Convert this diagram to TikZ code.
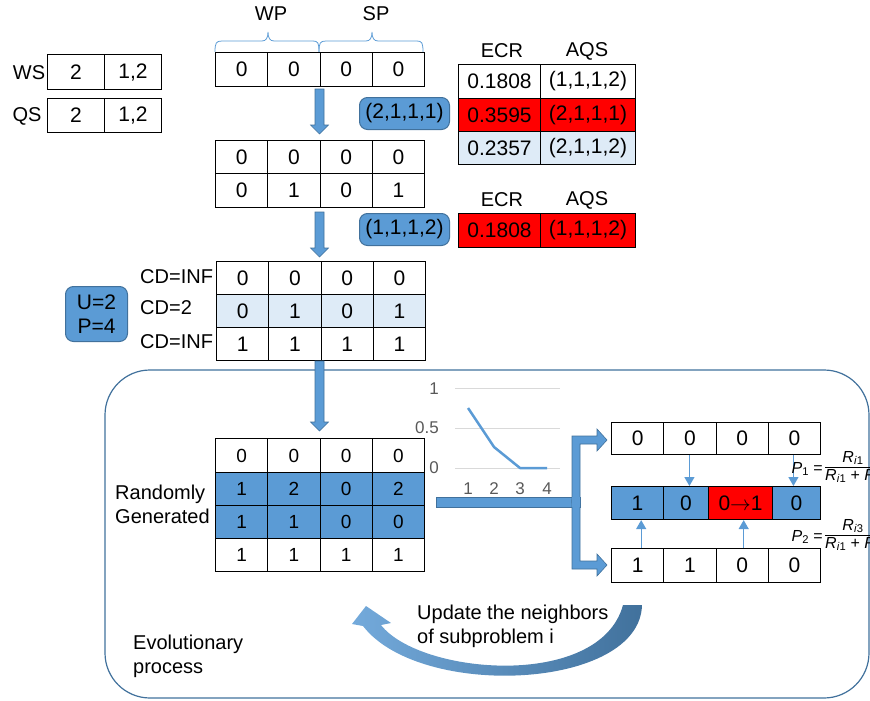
\documentclass[tikz,border=0pt]{standalone}
\usepackage{fontspec}
\setmainfont{Liberation Sans}
\usetikzlibrary{arrows.meta}
\definecolor{cblue}{HTML}{5B9BD5}
\definecolor{cborder}{HTML}{41719C}
\definecolor{clight}{HTML}{DEEBF7}
\definecolor{cred}{HTML}{FF0000}
\definecolor{cgray}{HTML}{595959}
\definecolor{cgrid}{HTML}{D9D9D9}
\tikzset{
  cell/.style={draw=black, line width=1.1pt, minimum width=52.25pt, inner sep=0pt,
    font=\fontsize{21}{25}\selectfont, anchor=north west},
  lbl/.style={inner sep=0pt, font=\fontsize{20}{24}\selectfont},
  rbox/.style={draw=cborder, fill=cblue, line width=1pt, rounded corners=8pt,
    inner sep=0pt, font=\fontsize{21}{24}\selectfont, anchor=north west},
  blockarrow/.style={fill=cblue, draw=cborder, line width=0.6pt},
  bracepath/.style={draw=cblue, line width=0.8pt},
  thinarrow/.style={draw=cblue, line width=1.3pt, -{Triangle[length=9pt,width=10pt]}},
  chartlbl/.style={inner sep=0pt, text=cgray, font=\fontsize{17}{20}\selectfont},
  formula/.style={inner sep=0pt, font=\fontsize{16}{18}\selectfont},
}
\newcommand{\downblock}[3]{%
  \filldraw[blockarrow] (#1-4.5,#2) -- (#1+4.5,#2) -- (#1+4.5,#3-9) -- (#1+9,#3-9)
    -- (#1,#3) -- (#1-9,#3-9) -- (#1-4.5,#3-9) -- cycle;}
\begin{document}
\begin{tikzpicture}[x=1pt,y=-1pt]
\useasboundingbox (0,0) rectangle (870,701);
\clip (0,0) rectangle (870,701);

% evolutionary frame
\draw[cborder, line width=1.2pt, rounded corners=45pt] (105,370) rectangle (869,698);

% WS / QS tables
\node[lbl] (ws) at (29,73) {WS};
\node[lbl] (qs) at (27,116) {QS};
\node[cell, minimum width=57pt, minimum height=35pt] (ws1) at (47,54) {2};
\node[cell, minimum width=57pt, minimum height=35pt] (ws2) at (104,54) {1,2};
\node[cell, minimum width=57pt, minimum height=34pt] (qs1) at (47,98) {2};
\node[cell, minimum width=57pt, minimum height=34pt] (qs2) at (104,98) {1,2};

% braces WP / SP
\draw[bracepath] (215,52) .. controls (215,43) and (216,41) .. (222,41) -- (262,41)
  .. controls (266,41) and (268,38) .. (268,32) .. controls (268,38) and (270,41) .. (274,41)
  -- (313,41) .. controls (318,41) and (319,43) .. (319,52);
\draw[bracepath] (319,52) .. controls (319,43) and (320,41) .. (326,41) -- (366,41)
  .. controls (370,41) and (372,38) .. (372,32) .. controls (372,38) and (374,41) .. (378,41)
  -- (417,41) .. controls (422,41) and (423,43) .. (423,52);
\node[lbl] (wp) at (271,14) {WP};
\node[lbl] (sp) at (376,14) {SP};

% matrix 1
\foreach \v [count=\i] in {0,0,0,0}
  \node[cell, minimum height=34pt] (ma\i) at ({215+(\i-1)*52.25},52) {\v};
\downblock{319.5}{89}{134}
\node[rbox, minimum width=90pt, minimum height=32pt] (aqs1) at (359,97) {(2,1,1,1)};

% matrix 2
\foreach \v [count=\i] in {0,0,0,0}
  \node[cell, minimum height=33pt] (mb\i) at ({215+(\i-1)*52.25},140) {\v};
\foreach \v [count=\i] in {0,1,0,1}
  \node[cell, minimum height=34pt] (mc\i) at ({215+(\i-1)*52.25},173) {\v};
\downblock{319.5}{212}{257}
\node[rbox, minimum width=90pt, minimum height=32pt] (aqs2) at (359,213) {(1,1,1,2)};

% ECR tables
\node[lbl] (ecr1) at (502,51) {ECR};
\node[lbl] (aqsh1) at (587,51) {AQS};
\node[cell, minimum width=82pt, minimum height=34pt] (e11) at (458,64) {0.1808};
\node[cell, minimum width=95pt, minimum height=34pt] (e12) at (540,64) {(1,1,1,2)};
\node[cell, fill=cred, minimum width=82pt, minimum height=33pt] (e21) at (458,98) {0.3595};
\node[cell, fill=cred, minimum width=95pt, minimum height=33pt] (e22) at (540,98) {(2,1,1,1)};
\node[cell, fill=clight, minimum width=82pt, minimum height=33pt] (e31) at (458,131) {0.2357};
\node[cell, fill=clight, minimum width=95pt, minimum height=33pt] (e32) at (540,131) {(2,1,1,2)};
\node[lbl] (ecr2) at (502,200) {ECR};
\node[lbl] (aqsh2) at (587,200) {AQS};
\node[cell, fill=cred, minimum width=82pt, minimum height=34pt] (f11) at (458,213) {0.1808};
\node[cell, fill=cred, minimum width=95pt, minimum height=34pt] (f12) at (540,213) {(1,1,1,2)};

% matrix 3 with crowding distances
\foreach \v [count=\i] in {0,0,0,0}
  \node[cell, minimum height=33pt] (md\i) at ({216+(\i-1)*52.25},261) {\v};
\foreach \v [count=\i] in {0,1,0,1}
  \node[cell, fill=clight, minimum height=33pt] (me\i) at ({216+(\i-1)*52.25},294) {\v};
\foreach \v [count=\i] in {1,1,1,1}
  \node[cell, minimum height=33pt] (mf\i) at ({216+(\i-1)*52.25},327) {\v};
\node[lbl, anchor=west] (cd1) at (140,277) {CD=INF};
\node[lbl, anchor=west] (cd2) at (140,308) {CD=2};
\node[lbl, anchor=west] (cd3) at (140,342) {CD=INF};
\node[rbox, minimum width=62pt, minimum height=55pt, align=center] (up) at (65,286) {U=2\\P=4};

\downblock{319.5}{361}{431}

% randomly generated matrix
\tikzset{rcell/.style={cell, minimum height=33pt, font=\fontsize{19}{22}\selectfont}}
\foreach \v [count=\i] in {0,0,0,0}
  \node[rcell, minimum height=34pt] (ra\i) at ({215+(\i-1)*52.25},438) {\v};
\foreach \v [count=\i] in {1,2,0,2}
  \node[rcell, fill=cblue] (rb\i) at ({215+(\i-1)*52.25},472) {\v};
\foreach \v [count=\i] in {1,1,0,0}
  \node[rcell, fill=cblue] (rc\i) at ({215+(\i-1)*52.25},505) {\v};
\foreach \v [count=\i] in {1,1,1,1}
  \node[rcell] (rd\i) at ({215+(\i-1)*52.25},538) {\v};
\node[lbl, anchor=west, align=left] (rg) at (115,504) {Randomly\\Generated};

% chart
\foreach \yy in {388,428,468} \draw[cgrid, line width=1pt] (455,\yy) -- (560,\yy);
\node[chartlbl, anchor=east] (cy1) at (439,389) {1};
\node[chartlbl, anchor=east] (cy2) at (439,428) {0.5};
\node[chartlbl, anchor=east] (cy3) at (439,468) {0};
\node[chartlbl] (cx1) at (468,489) {1};
\node[chartlbl] (cx2) at (494,489) {2};
\node[chartlbl] (cx3) at (520,489) {3};
\node[chartlbl] (cx4) at (547,489) {4};
\draw[cblue, line width=2.5pt, line join=round] (468,408) -- (494,447) -- (520,468) -- (547,468);

% branching block arrow
\filldraw[blockarrow] (436,497) rectangle (580,507);
\filldraw[blockarrow] (572,503) -- (572,436) -- (597,436) -- (597,429) -- (607,440)
  -- (597,451) -- (597,444) -- (580,444) -- (580,503) -- cycle;
\filldraw[blockarrow] (572,500) -- (572,569) -- (597,569) -- (597,576) -- (607,565)
  -- (597,554) -- (597,561) -- (580,561) -- (580,500) -- cycle;
\fill[cblue] (572.4,497.4) rectangle (579.6,506.6);

% right matrices
\foreach \v [count=\i] in {0,0,0,0}
  \node[cell, minimum height=32pt] (rt\i) at ({611+(\i-1)*52.25},422) {\v};
\node[cell, fill=cblue, minimum width=52pt, minimum height=33pt] (rm1) at (611,486) {1};
\node[cell, fill=cblue, minimum width=45pt, minimum height=33pt] (rm2) at (663,486) {0};
\node[cell, fill=cred, minimum width=64pt, minimum height=33pt] (rm3) at (708,486) {0\(\rightarrow\)1};
\node[cell, fill=cblue, minimum width=48pt, minimum height=33pt] (rm4) at (772,486) {0};
\foreach \v [count=\i] in {1,1,0,0}
  \node[cell, minimum height=34pt] (rw\i) at ({611+(\i-1)*52.25},548) {\v};

\draw[thinarrow] ([xshift=-0.5pt]rt2.south) -- ([xshift=-0.5pt]rt2.south |- rm2.north);
\draw[thinarrow] ([xshift=-1pt]rt4.south) -- ([xshift=-1pt]rt4.south |- rm4.north);
\draw[thinarrow] ([xshift=3.5pt]rw1.north) -- ([xshift=3.5pt]rw1.north |- rm1.south);
\draw[thinarrow] ([xshift=1.5pt]rw3.north) -- ([xshift=1.5pt]rw3.north |- rm3.south);

% formulas
\node[formula, anchor=east] (p1) at (823,469) {\textit{P}\textsubscript{1} =};
\draw[line width=0.7pt] (825,467) -- (885,467);
\node[formula, anchor=south] (p1n) at (853,465) {\textit{R}\textsubscript{\textit{i}1}};
\node[formula, anchor=north west] (p1d) at (825,469) {\textit{R}\textsubscript{\textit{i}1} + \textit{R}\textsubscript{\textit{i}3}};
\node[formula, anchor=east] (p2) at (823,537) {\textit{P}\textsubscript{2} =};
\draw[line width=0.7pt] (825,535) -- (885,535);
\node[formula, anchor=south] (p2n) at (853,533) {\textit{R}\textsubscript{\textit{i}3}};
\node[formula, anchor=north west] (p2d) at (825,537) {\textit{R}\textsubscript{\textit{i}1} + \textit{R}\textsubscript{\textit{i}3}};

% curved arrow
\shade[left color=cblue!85!white, right color=cborder] (352,624) -- (366,606) -- (391,623) -- (381,625)
  .. controls (420,675) and (600,690) .. (623,605) -- (642,605)
  .. controls (640,690) and (420,700) .. (363,626) -- cycle;
\node[lbl, anchor=west, align=left] (upd) at (417,626) {Update the neighbors\\of subproblem i};
\node[lbl, anchor=west, align=left] (evo) at (133,656) {Evolutionary\\process};
\end{tikzpicture}
\end{document}
